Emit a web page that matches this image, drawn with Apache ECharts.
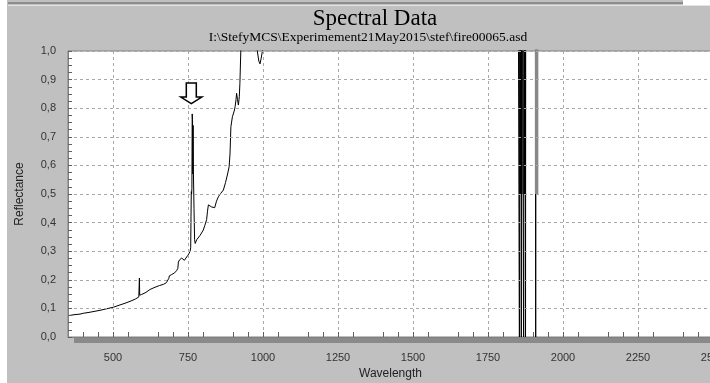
<!DOCTYPE html>
<html>
<head>
<meta charset="utf-8">
<script src="https://cdn.jsdelivr.net/npm/echarts@6/dist/echarts.min.js"></script>
<style>
html,body{margin:0;padding:0;background:#c0c0c0;}
#chart{width:710px;height:383px;}
</style>
</head>
<body>
<div id="chart"></div>
<script>
// ---- text ----
var titleText = 'Spectral Data';
var subtitleText = 'I:\\StefyMCS\\Experimement21May2015\\stef\\fire00065.asd';
var xName = 'Wavelength';
var yName = 'Reflectance';

// ---- axis ticks ----
var xTickValues = [500, 750, 1000, 1250, 1500, 1750, 2000, 2250, 2500];
var yTickValues = [0, 0.1, 0.2, 0.3, 0.4, 0.5, 0.6, 0.7, 0.8, 0.9, 1.0];

// ---- spectrum (wavelength nm) ----
var wavelength = [
  350, 354, 360, 370, 380, 390, 401, 420, 440, 460, 480, 501, 520, 540, 560, 575, 586,
  587, 588, 589, 590, 596, 610, 623, 640, 655, 668, 678, 684, 686, 688, 695, 705, 712, 716,
  718, 722, 726, 729, 733, 738, 743, 749, 754, 757, 759, 760, 761, 762, 763, 764, 765, 766,
  767, 768, 770, 772, 774, 779, 790, 801, 806, 812, 815, 818, 823, 828, 834, 839, 845, 851,
  859, 868, 875, 882, 887, 890, 893, 896, 898, 901, 904, 907, 910, 912, 915, 918, 921, 923,
  926, 930, 945, 960, 975, 981, 986, 990, 994, 998, 1002, 1010, 1050, 1100, 1200, 1300,
  1400, 1500, 1600, 1700, 1800, 1850, 1853,
  1855, 1856, 1857, 1858, 1859, 1860, 1861, 1862, 1863, 1864, 1866,
  1868, 1869, 1870, 1871, 1872, 1873, 1874, 1875, 1876, 1880,
  1900, 1908, 1909, 1910, 1950, 2000, 2100, 2200, 2300, 2400, 2500
];
// ---- reflectance (values above 1,0 run off the top of the plot) ----
var reflectance = [
  0.075, 0.077, 0.076, 0.078, 0.079, 0.080, 0.083, 0.086, 0.090, 0.094, 0.099, 0.104, 0.111, 0.118, 0.126, 0.133, 0.140,
  0.144, 0.206, 0.146, 0.149, 0.149, 0.156, 0.166, 0.174, 0.180, 0.184, 0.190, 0.196, 0.205, 0.214, 0.218, 0.224, 0.232, 0.240,
  0.262, 0.270, 0.268, 0.276, 0.272, 0.268, 0.272, 0.285, 0.293, 0.300, 0.312, 0.420, 0.508, 0.500, 0.520, 0.780, 0.760, 0.570,
  0.740, 0.580, 0.450, 0.340, 0.327, 0.340, 0.355, 0.374, 0.390, 0.410, 0.440, 0.462, 0.465, 0.455, 0.450, 0.452, 0.475, 0.490,
  0.502, 0.514, 0.540, 0.570, 0.595, 0.640, 0.735, 0.735, 0.770, 0.770, 0.790, 0.805, 0.830, 0.852, 0.830, 0.811, 0.840, 0.887,
  1.000, 1.150, 1.300, 1.200, 1.080, 1.000, 0.965, 0.955, 0.975, 1.000, 1.050, 1.150, 1.400, 1.600, 1.800, 1.900,
  1.700, 1.800, 1.900, 1.800, 1.700, 1.600, 1.600,
  -0.200, 1.600, 0.500, 1.600, 0.500, 1.600, -0.200, 1.600, 0.500, 1.600, 1.600,
  1.600, -0.200, 1.600, 0.500, 1.600, 0.500, 1.600, -0.200, 1.600, 1.600,
  1.600, 1.600, -0.200, 1.600, 1.700, 1.800, 1.700, 1.600, 1.600, 1.500, 1.500
];
// ---- grey overlay trace near 1910 nm ----
var greyWavelength = [1912, 1912];
var greyReflectance = [0.5, 1.5];
// ---- hollow arrow annotation position ----
var arrowWavelength = 761;
var arrowReflectance = 0.852;

function pairs(xs, ys) { return xs.map(function (x, i) { return [x, ys[i]]; }); }
var labelFont = 'Liberation Sans, Arial, sans-serif';
var fmtY = function (v) { return v.toFixed(1).replace('.', ','); };
var fmtX = function (v) { return String(Math.round(v)); };

var chart = echarts.init(document.getElementById('chart'), null, {renderer: 'canvas'});
chart.setOption({
  backgroundColor: '#c0c0c0',
  animation: false,
  grid: {left: 68, top: 51, right: -3, bottom: 46, show: true, containLabel: false,
         outerBoundsMode: 'none',
         backgroundColor: '#ffffff', borderColor: '#808080', borderWidth: 1},
  xAxis: {
    type: 'value', min: 350, max: 2500, interval: 250, position: 'bottom', z: 5,
    name: xName, nameLocation: 'middle', nameGap: 30,
    nameTextStyle: {fontFamily: labelFont, fontSize: 12, color: '#222'},
    axisLine: {show: true, lineStyle: {color: '#808080'}},
    axisTick: {show: true, inside: true, customValues: xTickValues, length: 5, lineStyle: {color: '#606060'}},
    minorTick: {show: true, splitNumber: 5, length: 5, lineStyle: {color: '#606060', width: 1}},
    axisLabel: {customValues: xTickValues, margin: 15, fontFamily: labelFont, fontSize: 11, color: '#333', formatter: fmtX},
    splitLine: {show: true, lineStyle: {color: '#a8a8a8', type: [3, 3], width: 1}}
  },
  yAxis: {
    type: 'value', min: 0, max: 1, interval: 0.1, position: 'left', z: 5,
    name: yName, nameLocation: 'middle', nameGap: 42,
    nameTextStyle: {fontFamily: labelFont, fontSize: 12, color: '#222'},
    axisLine: {show: true, lineStyle: {color: '#808080'}},
    axisTick: {show: true, inside: true, length: 4, lineStyle: {color: '#606060'}},
    minorTick: {show: true, splitNumber: 4, length: 4, lineStyle: {color: '#606060', width: 1}},
    axisLabel: {margin: 12, fontFamily: labelFont, fontSize: 11, color: '#333', formatter: fmtY},
    splitLine: {show: true, lineStyle: {color: '#a8a8a8', type: [3, 3], width: 1}}
  },
  series: [{
    type: 'line', data: pairs(wavelength, reflectance), showSymbol: false, symbol: 'none',
    clip: true, z: 3,
    lineStyle: {color: '#000000', width: 1},
    markPoint: {
      symbol: 'path://M5.5,0 L15.5,0 L15.5,14 L21,14 L10.5,20.5 L0,14 L5.5,14 Z',
      symbolSize: [21, 20.5],
      label: {show: false},
      itemStyle: {color: '#ffffff', borderColor: '#000000', borderWidth: 1.5},
      data: [{coord: [arrowWavelength, arrowReflectance]}]
    }
  }, {
    type: 'line', data: pairs(greyWavelength, greyReflectance), showSymbol: false, symbol: 'none',
    clip: true, z: 4,
    lineStyle: {color: '#888888', width: 3.5}
  }],
  graphic: [
    {type: 'rect', z: 100, shape: {x: 74, y: 338, width: 650, height: 5}, style: {fill: '#8a8a8a'}},
    {type: 'rect', z: 100, shape: {x: 8, y: 2, width: 675, height: 2}, style: {fill: '#8c8c8c'}},
    {type: 'rect', z: 100, shape: {x: 8, y: 5, width: 702, height: 1}, style: {fill: '#e2e2ec'}},
    {type: 'rect', z: 100, shape: {x: 683, y: 0, width: 27, height: 5}, style: {fill: '#ffffff'}},
    {type: 'rect', z: 100, shape: {x: 0, y: 0, width: 7, height: 383}, style: {fill: '#ffffff'}},
    {type: 'text', z: 100, x: 375, y: 7,
     style: {text: titleText, textAlign: 'center', textVerticalAlign: 'top',
             font: '23px "Liberation Serif", "Times New Roman", serif', fill: '#000'}},
    {type: 'text', z: 100, x: 368, y: 30,
     style: {text: subtitleText, textAlign: 'center', textVerticalAlign: 'top',
             font: '13.5px "Liberation Serif", "Times New Roman", serif', fill: '#000'}}
  ]
});
</script>
</body>
</html>
